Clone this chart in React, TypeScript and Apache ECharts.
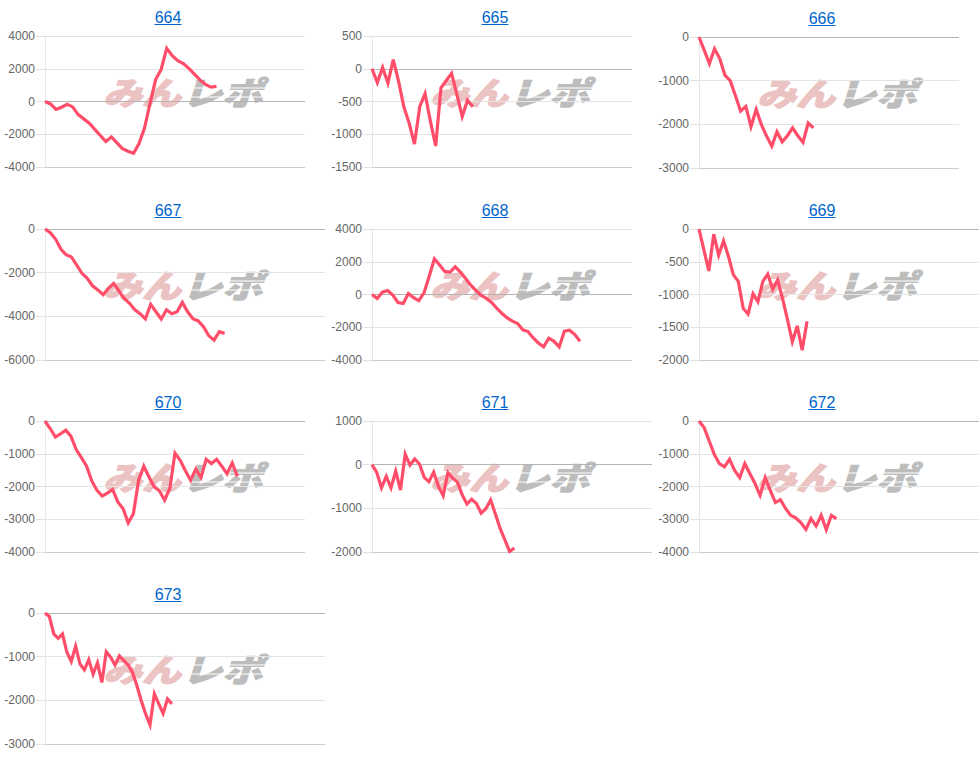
import { useEffect, useRef } from "react"
import * as echarts from "echarts"

const machineNames = ["664", "665", "666", "667", "668", "669", "670", "671", "672", "673"]

const values664 = [0, -150, -480, -350, -170, -330, -800, -1060, -1320, -1700, -2080, -2450, -2160, -2530, -2880, -3040, -3160, -2570, -1610, -100, 1340, 1960, 3250, 2800, 2490, 2320, 2020, 1670, 1320, 1040, 880, 920]
const values665 = [0, -210, 20, -220, 140, -190, -580, -830, -1150, -580, -380, -800, -1180, -290, -180, -70, -390, -730, -480, -580]
const values666 = [0, -300, -610, -270, -500, -880, -1000, -1340, -1700, -1590, -2050, -1660, -2010, -2270, -2500, -2170, -2400, -2260, -2080, -2260, -2410, -1970, -2080]
const values667 = [0, -170, -460, -920, -1180, -1280, -1650, -2030, -2260, -2600, -2790, -3010, -2720, -2490, -2840, -3180, -3400, -3700, -3880, -4120, -3450, -3790, -4120, -3700, -3880, -3790, -3360, -3790, -4110, -4210, -4470, -4890, -5090, -4700, -4780]
const values668 = [0, -240, 140, 240, -40, -490, -550, 60, -200, -370, 100, 1120, 2180, 1800, 1410, 1370, 1690, 1370, 980, 570, 240, -60, -240, -490, -840, -1160, -1430, -1630, -1770, -2160, -2260, -2650, -2960, -3200, -2670, -2860, -3200, -2240, -2180, -2450, -2860]
const values669 = [0, -320, -640, -80, -400, -180, -420, -700, -800, -1210, -1300, -990, -1110, -800, -690, -920, -780, -1060, -1380, -1720, -1480, -1850, -1410]
const values670 = [0, -230, -490, -390, -280, -470, -870, -1120, -1380, -1830, -2120, -2290, -2200, -2090, -2470, -2670, -3110, -2830, -1810, -1380, -1710, -2010, -2130, -2420, -2060, -980, -1200, -1520, -1810, -1470, -1730, -1170, -1300, -1170, -1380, -1610, -1280, -1690]
const values671 = [0, -180, -530, -270, -530, -150, -580, 240, -10, 130, 15, -290, -390, -170, -500, -710, -180, -310, -400, -690, -900, -790, -890, -1110, -1010, -810, -1130, -1460, -1720, -1990, -1910]
const values672 = [0, -200, -610, -1020, -1300, -1400, -1170, -1510, -1730, -1300, -1610, -1910, -2270, -1730, -2120, -2490, -2400, -2670, -2880, -2960, -3100, -3310, -2980, -3210, -2880, -3320, -2880, -2980]
const values673 = [0, -80, -480, -580, -480, -900, -1110, -760, -1170, -1300, -1070, -1400, -1140, -1590, -890, -1010, -1190, -980, -1090, -1190, -1360, -1660, -2010, -2310, -2560, -1850, -2080, -2300, -1970, -2080]

const allValues = [values664, values665, values666, values667, values668, values669, values670, values671, values672, values673]

// 台ごとに横軸の長さが違う
const slotCounts = [48, 50, 51, 54, 51, 58, 51, 60, 56, 65]
const yMins = [-4000, -1500, -3000, -6000, -4000, -2000, -4000, -2000, -4000, -3000]
const yMaxes = [4000, 500, 0, 0, 4000, 0, 0, 1000, 0, 0]
const ySteps = [2000, 500, 1000, 2000, 2000, 500, 1000, 1000, 1000, 1000]

const gridLefts = [45, 372, 699, 45, 372, 699, 45, 372, 699, 45]
const gridWidths = [260, 260, 260, 280, 260, 280, 260, 280, 280, 280]
const gridTops = [36, 36, 37, 229, 229, 229, 421, 421, 421, 613]
const gridHeight = 131

const titleCenters = [168, 495, 822, 168, 495, 822, 168, 495, 822, 168]

const LINE_COLOR = "#ff4d6a"
const FONT = "'Liberation Sans', Arial, sans-serif"
const LOGO_FONT = "'Noto Sans CJK JP', sans-serif"

function splitColors(min: number, max: number, step: number) {
  const colors: string[] = []
  for (let v = min; v <= max; v += step) {
    if (v === 0) colors.push("#b4b4b4")
    else if (v === min) colors.push("#cccccc")
    else colors.push("#e4e4e4")
  }
  return colors
}

function logoText(text: string, x: number, y: number, fill: string, scaleX: number) {
  return {
    type: "text",
    silent: true,
    z: -1,
    x,
    y,
    scaleX,
    scaleY: 0.82,
    style: {
      text,
      font: `italic 900 39px ${LOGO_FONT}`,
      fill,
      stroke: fill,
      lineWidth: 1.4,
      verticalAlign: "middle",
    },
  }
}

function buildOption() {
  const graphics: any[] = []

  machineNames.forEach((name, i) => {
    const baseline = gridTops[i] - 13
    // リンク風の下線
    graphics.push({
      type: "line",
      silent: true,
      shape: { x1: titleCenters[i] - 13.5, y1: baseline + 1.5, x2: titleCenters[i] + 13.5, y2: baseline + 1.5 },
      style: { stroke: "#0066cc", lineWidth: 1 },
    })
    // 背景のロゴ
    const logoY = gridTops[i] + 55
    graphics.push(logoText("みん", gridLefts[i] + 58, logoY, "#ecc3c3", 1))
    graphics.push(logoText("レポ", gridLefts[i] + 137, logoY, "#bdbdbd", 1.03))
    // ロゴ右側の切れ目
    graphics.push({
      type: "line",
      silent: true,
      z: -1,
      shape: { x1: gridLefts[i] + 140, y1: logoY - 3, x2: gridLefts[i] + 222, y2: logoY - 3 },
      style: { stroke: "#ffffff", lineWidth: 1 },
    })
    graphics.push({
      type: "line",
      silent: true,
      z: -1,
      shape: { x1: gridLefts[i] + 140, y1: logoY + 6, x2: gridLefts[i] + 222, y2: logoY + 6 },
      style: { stroke: "#ffffff", lineWidth: 1 },
    })
  })

  return {
    animation: false,
    backgroundColor: "#ffffff",
    title: machineNames.map((name, i) => ({
      text: name,
      left: titleCenters[i],
      top: gridTops[i] - 27,
      textAlign: "center",
      padding: 0,
      textStyle: { color: "#0066cc", fontFamily: FONT, fontSize: 16, fontWeight: "normal" },
    })),
    grid: machineNames.map((name, i) => ({
      left: gridLefts[i],
      top: gridTops[i],
      width: gridWidths[i],
      height: gridHeight,
      outerBoundsMode: "none",
    })),
    xAxis: machineNames.map((name, i) => ({
      type: "category",
      gridIndex: i,
      boundaryGap: false,
      data: Array.from({ length: slotCounts[i] }, (_, n) => String(n + 1)),
      axisLine: { show: false },
      axisTick: { show: false },
      axisLabel: { show: false },
      splitLine: { show: false },
    })),
    yAxis: machineNames.map((name, i) => ({
      type: "value",
      gridIndex: i,
      min: yMins[i],
      max: yMaxes[i],
      interval: ySteps[i],
      axisLine: { show: true, onZero: false, lineStyle: { color: "#e8e8e8", width: 1 } },
      axisTick: { show: true, length: 9, lineStyle: { color: "#e0e0e0" } },
      axisLabel: {
        color: "#666666",
        fontFamily: FONT,
        fontSize: 12,
        margin: 10,
        formatter: (v: number) => String(v),
      },
      splitLine: {
        show: true,
        lineStyle: { color: splitColors(yMins[i], yMaxes[i], ySteps[i]), width: 1 },
      },
    })),
    series: machineNames.map((name, i) => ({
      type: "line",
      name,
      xAxisIndex: i,
      yAxisIndex: i,
      data: allValues[i],
      showSymbol: false,
      z: 3,
      lineStyle: { color: LINE_COLOR, width: 3.2, join: "miter" },
    })),
    graphic: graphics,
  }
}

export default function App() {
  const chartRef = useRef<HTMLDivElement>(null)

  useEffect(() => {
    if (!chartRef.current) return
    const chart = echarts.init(chartRef.current, undefined, { renderer: "svg" })
    chart.setOption(buildOption())
    return () => {
      chart.dispose()
    }
  }, [])

  return <div ref={chartRef} style={{ position: "absolute", left: 0, top: 0, width: 979, height: 766 }} />
}
